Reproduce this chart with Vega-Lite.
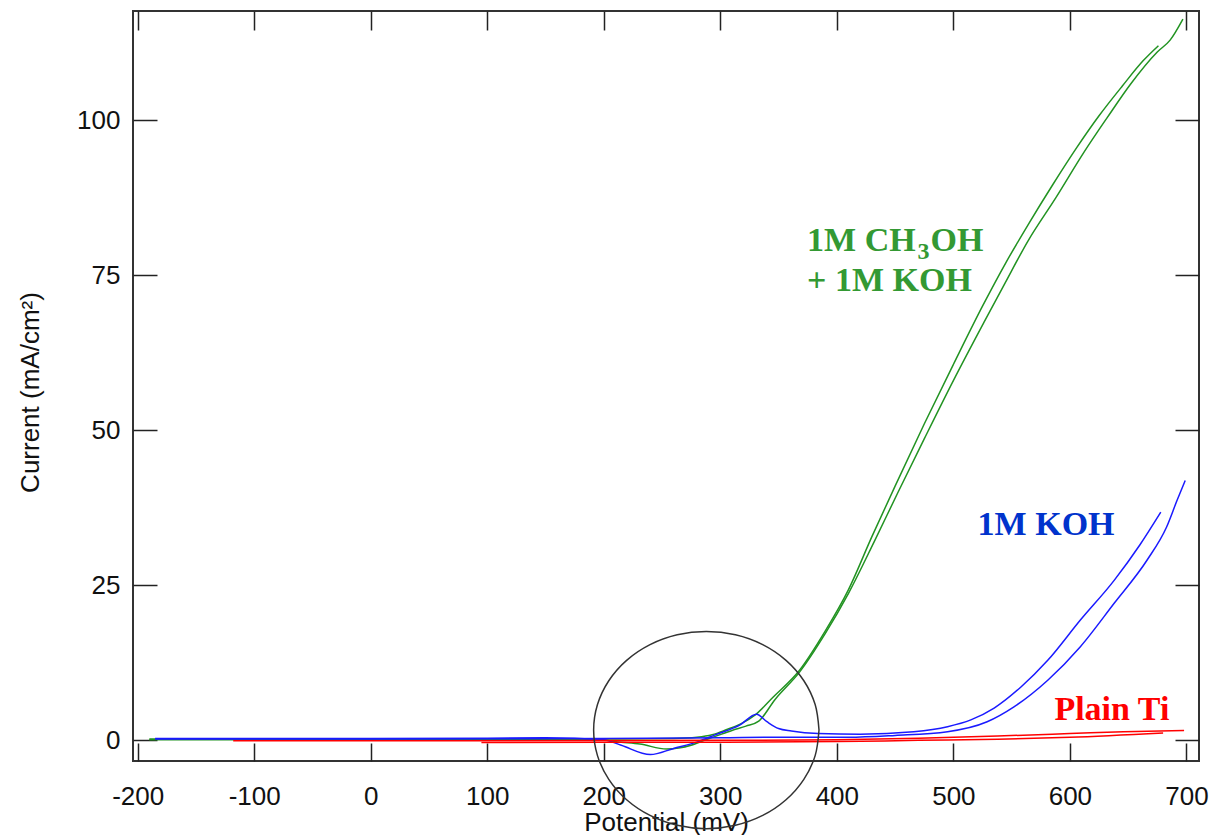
{
  "$schema": "https://vega.github.io/schema/vega-lite/v6.json",
  "width": 1066,
  "height": 750,
  "autosize": "none",
  "padding": {"left": 133, "top": 11, "right": 12, "bottom": 74},
  "background": "white",
  "config": {
    "view": {"stroke": "#333", "strokeWidth": 2},
    "axis": {"grid": false, "domain": false, "tickColor": "#222", "tickWidth": 1.5, "labelFont": "Liberation Sans", "titleFont": "Liberation Sans", "labelColor": "#111", "titleColor": "#111"}
  },
  "datasets": {
    "curves": [
      {"series": "green", "strand": "g1", "x": -190, "y": 0.1},
      {"series": "green", "strand": "g1", "x": -100, "y": 0.1},
      {"series": "green", "strand": "g1", "x": 0, "y": 0.1},
      {"series": "green", "strand": "g1", "x": 100, "y": 0.15},
      {"series": "green", "strand": "g1", "x": 195, "y": 0.1},
      {"series": "green", "strand": "g1", "x": 215, "y": -0.3},
      {"series": "green", "strand": "g1", "x": 231, "y": -0.6},
      {"series": "green", "strand": "g1", "x": 254, "y": -1.4},
      {"series": "green", "strand": "g1", "x": 275, "y": -0.8},
      {"series": "green", "strand": "g1", "x": 287, "y": 0.05},
      {"series": "green", "strand": "g1", "x": 298, "y": 0.8},
      {"series": "green", "strand": "g1", "x": 310, "y": 1.6},
      {"series": "green", "strand": "g1", "x": 322, "y": 2.3},
      {"series": "green", "strand": "g1", "x": 333, "y": 3.1},
      {"series": "green", "strand": "g1", "x": 347, "y": 6.6},
      {"series": "green", "strand": "g1", "x": 368, "y": 11.0},
      {"series": "green", "strand": "g1", "x": 390, "y": 17.2},
      {"series": "green", "strand": "g1", "x": 410, "y": 23.7},
      {"series": "green", "strand": "g1", "x": 432, "y": 32.0},
      {"series": "green", "strand": "g1", "x": 452, "y": 39.8},
      {"series": "green", "strand": "g1", "x": 475, "y": 48.6},
      {"series": "green", "strand": "g1", "x": 500, "y": 58.0},
      {"series": "green", "strand": "g1", "x": 526, "y": 67.3},
      {"series": "green", "strand": "g1", "x": 544, "y": 73.6},
      {"series": "green", "strand": "g1", "x": 564, "y": 80.5},
      {"series": "green", "strand": "g1", "x": 588, "y": 87.5},
      {"series": "green", "strand": "g1", "x": 612, "y": 94.8},
      {"series": "green", "strand": "g1", "x": 632, "y": 100.4},
      {"series": "green", "strand": "g1", "x": 652, "y": 105.8},
      {"series": "green", "strand": "g1", "x": 675, "y": 111.0},
      {"series": "green", "strand": "g1", "x": 686, "y": 112.9},
      {"series": "green", "strand": "g1", "x": 697, "y": 116.3},
      {"series": "green", "strand": "g2", "x": -190, "y": 0.2},
      {"series": "green", "strand": "g2", "x": 0, "y": 0.2},
      {"series": "green", "strand": "g2", "x": 150, "y": 0.25},
      {"series": "green", "strand": "g2", "x": 200, "y": 0.2},
      {"series": "green", "strand": "g2", "x": 260, "y": 0.3},
      {"series": "green", "strand": "g2", "x": 280, "y": 0.5},
      {"series": "green", "strand": "g2", "x": 293, "y": 0.9},
      {"series": "green", "strand": "g2", "x": 305, "y": 1.7},
      {"series": "green", "strand": "g2", "x": 318, "y": 2.7},
      {"series": "green", "strand": "g2", "x": 330, "y": 4.1},
      {"series": "green", "strand": "g2", "x": 345, "y": 6.9},
      {"series": "green", "strand": "g2", "x": 368, "y": 11.3},
      {"series": "green", "strand": "g2", "x": 390, "y": 17.6},
      {"series": "green", "strand": "g2", "x": 410, "y": 24.3},
      {"series": "green", "strand": "g2", "x": 430, "y": 32.8},
      {"series": "green", "strand": "g2", "x": 450, "y": 41.0},
      {"series": "green", "strand": "g2", "x": 475, "y": 51.0},
      {"series": "green", "strand": "g2", "x": 500, "y": 60.6},
      {"series": "green", "strand": "g2", "x": 525, "y": 70.0},
      {"series": "green", "strand": "g2", "x": 545, "y": 77.0},
      {"series": "green", "strand": "g2", "x": 565, "y": 83.4},
      {"series": "green", "strand": "g2", "x": 585, "y": 89.5},
      {"series": "green", "strand": "g2", "x": 606, "y": 95.6},
      {"series": "green", "strand": "g2", "x": 625, "y": 100.7},
      {"series": "green", "strand": "g2", "x": 645, "y": 105.5},
      {"series": "green", "strand": "g2", "x": 663, "y": 109.6},
      {"series": "green", "strand": "g2", "x": 676, "y": 112.0},
      {"series": "blue", "strand": "b1", "x": -185, "y": 0.3},
      {"series": "blue", "strand": "b1", "x": -100, "y": 0.3},
      {"series": "blue", "strand": "b1", "x": 0, "y": 0.3},
      {"series": "blue", "strand": "b1", "x": 100, "y": 0.35},
      {"series": "blue", "strand": "b1", "x": 150, "y": 0.4},
      {"series": "blue", "strand": "b1", "x": 200, "y": 0.1},
      {"series": "blue", "strand": "b1", "x": 215, "y": -0.8},
      {"series": "blue", "strand": "b1", "x": 240, "y": -2.3},
      {"series": "blue", "strand": "b1", "x": 260, "y": -1.3},
      {"series": "blue", "strand": "b1", "x": 281, "y": -0.2},
      {"series": "blue", "strand": "b1", "x": 295, "y": 0.85},
      {"series": "blue", "strand": "b1", "x": 317, "y": 2.5},
      {"series": "blue", "strand": "b1", "x": 331, "y": 4.2},
      {"series": "blue", "strand": "b1", "x": 340, "y": 3.0},
      {"series": "blue", "strand": "b1", "x": 350, "y": 1.9},
      {"series": "blue", "strand": "b1", "x": 361, "y": 1.5},
      {"series": "blue", "strand": "b1", "x": 384, "y": 1.1},
      {"series": "blue", "strand": "b1", "x": 420, "y": 1.0},
      {"series": "blue", "strand": "b1", "x": 466, "y": 1.4},
      {"series": "blue", "strand": "b1", "x": 495, "y": 2.2},
      {"series": "blue", "strand": "b1", "x": 515, "y": 3.3},
      {"series": "blue", "strand": "b1", "x": 535, "y": 5.2},
      {"series": "blue", "strand": "b1", "x": 558, "y": 8.6},
      {"series": "blue", "strand": "b1", "x": 581, "y": 12.9},
      {"series": "blue", "strand": "b1", "x": 609, "y": 19.4},
      {"series": "blue", "strand": "b1", "x": 638, "y": 25.8},
      {"series": "blue", "strand": "b1", "x": 660, "y": 31.5},
      {"series": "blue", "strand": "b1", "x": 678, "y": 36.8},
      {"series": "blue", "strand": "b2", "x": -185, "y": 0.2},
      {"series": "blue", "strand": "b2", "x": 0, "y": 0.2},
      {"series": "blue", "strand": "b2", "x": 200, "y": 0.3},
      {"series": "blue", "strand": "b2", "x": 300, "y": 0.4},
      {"series": "blue", "strand": "b2", "x": 350, "y": 0.5},
      {"series": "blue", "strand": "b2", "x": 410, "y": 0.5},
      {"series": "blue", "strand": "b2", "x": 450, "y": 0.8},
      {"series": "blue", "strand": "b2", "x": 495, "y": 1.4},
      {"series": "blue", "strand": "b2", "x": 529, "y": 3.0},
      {"series": "blue", "strand": "b2", "x": 552, "y": 5.4},
      {"series": "blue", "strand": "b2", "x": 581, "y": 9.7},
      {"series": "blue", "strand": "b2", "x": 609, "y": 15.1},
      {"series": "blue", "strand": "b2", "x": 638, "y": 22.1},
      {"series": "blue", "strand": "b2", "x": 666, "y": 29.0},
      {"series": "blue", "strand": "b2", "x": 683, "y": 34.4},
      {"series": "blue", "strand": "b2", "x": 692, "y": 38.7},
      {"series": "blue", "strand": "b2", "x": 699, "y": 41.9},
      {"series": "red", "strand": "r1", "x": -118, "y": -0.05},
      {"series": "red", "strand": "r1", "x": 100, "y": -0.05},
      {"series": "red", "strand": "r1", "x": 300, "y": 0.0},
      {"series": "red", "strand": "r1", "x": 400, "y": 0.1},
      {"series": "red", "strand": "r1", "x": 470, "y": 0.35},
      {"series": "red", "strand": "r1", "x": 538, "y": 0.7},
      {"series": "red", "strand": "r1", "x": 600, "y": 1.1},
      {"series": "red", "strand": "r1", "x": 646, "y": 1.4},
      {"series": "red", "strand": "r1", "x": 698, "y": 1.6},
      {"series": "red", "strand": "r2", "x": 95, "y": -0.35},
      {"series": "red", "strand": "r2", "x": 200, "y": -0.3},
      {"series": "red", "strand": "r2", "x": 300, "y": -0.3},
      {"series": "red", "strand": "r2", "x": 400, "y": -0.2},
      {"series": "red", "strand": "r2", "x": 470, "y": 0.0},
      {"series": "red", "strand": "r2", "x": 538, "y": 0.16},
      {"series": "red", "strand": "r2", "x": 600, "y": 0.5},
      {"series": "red", "strand": "r2", "x": 680, "y": 1.2}
    ],
    "ellipse": [
      {"i": 0, "x": 384.7, "y": 1.66},
      {"i": 1, "x": 381.4, "y": 5.77},
      {"i": 2, "x": 371.7, "y": 9.61},
      {"i": 3, "x": 356.4, "y": 12.9},
      {"i": 4, "x": 336.4, "y": 15.43},
      {"i": 5, "x": 313.0, "y": 17.02},
      {"i": 6, "x": 288.0, "y": 17.56},
      {"i": 7, "x": 263.0, "y": 17.02},
      {"i": 8, "x": 239.7, "y": 15.43},
      {"i": 9, "x": 219.6, "y": 12.9},
      {"i": 10, "x": 204.3, "y": 9.61},
      {"i": 11, "x": 194.6, "y": 5.77},
      {"i": 12, "x": 191.3, "y": 1.66},
      {"i": 13, "x": 194.6, "y": -2.46},
      {"i": 14, "x": 204.3, "y": -6.29},
      {"i": 15, "x": 219.6, "y": -9.58},
      {"i": 16, "x": 239.7, "y": -12.11},
      {"i": 17, "x": 263.0, "y": -13.7},
      {"i": 18, "x": 288.0, "y": -14.24},
      {"i": 19, "x": 313.0, "y": -13.7},
      {"i": 20, "x": 336.4, "y": -12.11},
      {"i": 21, "x": 356.4, "y": -9.58},
      {"i": 22, "x": 371.7, "y": -6.29},
      {"i": 23, "x": 381.4, "y": -2.46},
      {"i": 24, "x": 384.7, "y": 1.66}
    ],
    "labels": [
      {"t": "1M CH", "x": 374.5, "y": 78.95, "g": "green"},
      {"t": "OH", "x": 480.4, "y": 78.95, "g": "green"},
      {"t": "3", "x": 469.3, "y": 77.6, "g": "sub"},
      {"t": "+ 1M KOH", "x": 374.5, "y": 72.4, "g": "green"},
      {"t": "1M KOH", "x": 520.8, "y": 33.06, "g": "blue"},
      {"t": "Plain Ti", "x": 586.7, "y": 3.27, "g": "red"}
    ]
  },
  "layer": [
    {
      "data": {"name": "curves"},
      "mark": {"type": "line", "strokeWidth": 1.5, "interpolate": "monotone"},
      "encoding": {
        "x": {
          "field": "x", "type": "quantitative",
          "scale": {"domain": [-204, 710.8], "nice": false, "zero": false},
          "axis": {
            "orient": "bottom", "values": [-200, -100, 0, 100, 200, 300, 400, 500, 600, 700],
            "labelExpr": "'' + datum.value",
            "tickSize": -18, "labelPadding": 40, "labelFontSize": 26, "labelBaseline": "top",
            "title": "Potential (mV)", "titleFontSize": 26, "titleFontWeight": "normal",
            "titleBaseline": "alphabetic", "titleY": 69
          }
        },
        "y": {
          "field": "y", "type": "quantitative",
          "scale": {"domain": [-3.33, 117.6], "nice": false, "zero": false},
          "axis": {
            "orient": "left", "values": [0, 25, 50, 75, 100],
            "tickSize": -24, "labelPadding": 37, "labelFontSize": 26,
            "title": "Current (mA/cm²)", "titleFontSize": 26, "titleFontWeight": "normal",
            "titleAngle": -90, "titleAlign": "center", "titleBaseline": "middle",
            "titleX": -103, "titleY": 381
          }
        },
        "color": {
          "field": "series", "type": "nominal",
          "scale": {"domain": ["green", "blue", "red"], "range": ["#229322", "#1a1aff", "#ff0000"]},
          "legend": null
        },
        "detail": {"field": "strand", "type": "nominal"}
      }
    },
    {
      "data": {"name": "ellipse"},
      "mark": {"type": "line", "stroke": "#333", "strokeWidth": 1.5, "interpolate": "cardinal", "clip": false},
      "encoding": {
        "x": {
          "field": "x", "type": "quantitative",
          "axis": {"orient": "top", "values": [-200, -100, 0, 100, 200, 300, 400, 500, 600, 700], "labels": false, "tickSize": -19, "title": null}
        },
        "y": {
          "field": "y", "type": "quantitative",
          "axis": {"orient": "right", "values": [0, 25, 50, 75, 100], "labels": false, "tickSize": -24, "title": null}
        },
        "order": {"field": "i", "type": "quantitative"}
      }
    },
    {
      "data": {"name": "labels"},
      "transform": [{"filter": "datum.g === 'green'"}],
      "mark": {"type": "text", "font": "Liberation Serif", "fontWeight": "bold", "fontSize": 34, "align": "left", "baseline": "alphabetic", "color": "#339933"},
      "encoding": {
        "x": {"field": "x", "type": "quantitative", "axis": null},
        "y": {"field": "y", "type": "quantitative", "axis": null},
        "text": {"field": "t"}
      }
    },
    {
      "data": {"name": "labels"},
      "transform": [{"filter": "datum.g === 'sub'"}],
      "mark": {"type": "text", "font": "Liberation Serif", "fontWeight": "bold", "fontSize": 24, "align": "left", "baseline": "alphabetic", "color": "#339933"},
      "encoding": {
        "x": {"field": "x", "type": "quantitative", "axis": null},
        "y": {"field": "y", "type": "quantitative", "axis": null},
        "text": {"field": "t"}
      }
    },
    {
      "data": {"name": "labels"},
      "transform": [{"filter": "datum.g === 'blue'"}],
      "mark": {"type": "text", "font": "Liberation Serif", "fontWeight": "bold", "fontSize": 34, "align": "left", "baseline": "alphabetic", "color": "#0033cc"},
      "encoding": {
        "x": {"field": "x", "type": "quantitative", "axis": null},
        "y": {"field": "y", "type": "quantitative", "axis": null},
        "text": {"field": "t"}
      }
    },
    {
      "data": {"name": "labels"},
      "transform": [{"filter": "datum.g === 'red'"}],
      "mark": {"type": "text", "font": "Liberation Serif", "fontWeight": "bold", "fontSize": 34, "align": "left", "baseline": "alphabetic", "color": "#ff0000"},
      "encoding": {
        "x": {"field": "x", "type": "quantitative", "axis": null},
        "y": {"field": "y", "type": "quantitative", "axis": null},
        "text": {"field": "t"}
      }
    }
  ],
  "resolve": {"axis": {"x": "independent", "y": "independent"}}
}
